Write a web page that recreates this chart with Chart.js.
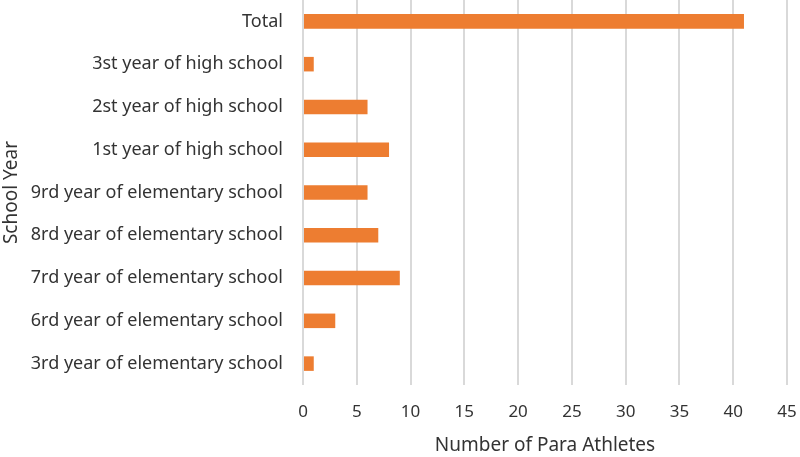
<!DOCTYPE html>
<html>
<head>
<meta charset="utf-8">
<script src="https://cdn.jsdelivr.net/npm/chart.js@4"></script>
<style>
  html, body { margin: 0; padding: 0; background: #fff; }
  #wrap { width: 800px; height: 457px; }
</style>
</head>
<body>
<div id="wrap"><canvas id="athleteChart"></canvas></div>
<script>
// School years, top to bottom as in the chart
const schoolYears = [
  "Total",
  "3st year of high school",
  "2st year of high school",
  "1st year of high school",
  "9rd year of elementary school",
  "8rd year of elementary school",
  "7rd year of elementary school",
  "6rd year of elementary school",
  "3rd year of elementary school",
]
const athleteCounts = [41, 1, 6, 8, 6, 7, 9, 3, 1]
const xTicks = [0, 5, 10, 15, 20, 25, 30, 35, 40, 45]

const textColor = "#333333"
const fontFamily = "'Noto Sans', 'Open Sans', sans-serif"

new Chart(document.getElementById("athleteChart"), {
  type: "bar",
  data: {
    labels: schoolYears,
    datasets: [
      {
        data: athleteCounts,
        backgroundColor: "#ED7D31",
        categoryPercentage: 1,
        barPercentage: 0.34,
      },
    ],
  },
  options: {
    indexAxis: "y",
    responsive: true,
    maintainAspectRatio: false,
    animation: false,
    layout: { padding: { top: 0, right: 13, bottom: 0, left: 0 } },
    plugins: {
      legend: { display: false },
      tooltip: { enabled: false },
    },
    scales: {
      x: {
        min: 0,
        max: 45,
        afterBuildTicks: (scale) => {
          scale.ticks = xTicks.map((v) => ({ value: v }))
        },
        afterFit: (scale) => {
          scale.height = 72
          // no extra room for the end labels
          scale.paddingLeft = 0
          scale.paddingRight = 0
        },
        grid: { color: "#d9d9d9", lineWidth: 2, drawTicks: false },
        border: { display: false },
        ticks: { color: textColor, font: { family: fontFamily, size: 17 }, padding: 17 },
        title: {
          display: true,
          text: "Number of Para Athletes",
          color: textColor,
          font: { family: fontFamily, size: 19 },
          padding: { top: 4, bottom: 0 },
        },
      },
      y: {
        afterFit: (scale) => {
          scale.width = 303
          scale.paddingTop = 0
          scale.paddingBottom = 0
        },
        grid: { display: false, drawTicks: false },
        border: { display: false },
        ticks: { color: textColor, font: { family: fontFamily, size: 18 }, padding: 20 },
        title: {
          display: true,
          text: "School Year",
          color: textColor,
          font: { family: fontFamily, size: 19 },
          padding: { top: 0, bottom: 0 },
        },
      },
    },
  },
})
</script>
</body>
</html>
